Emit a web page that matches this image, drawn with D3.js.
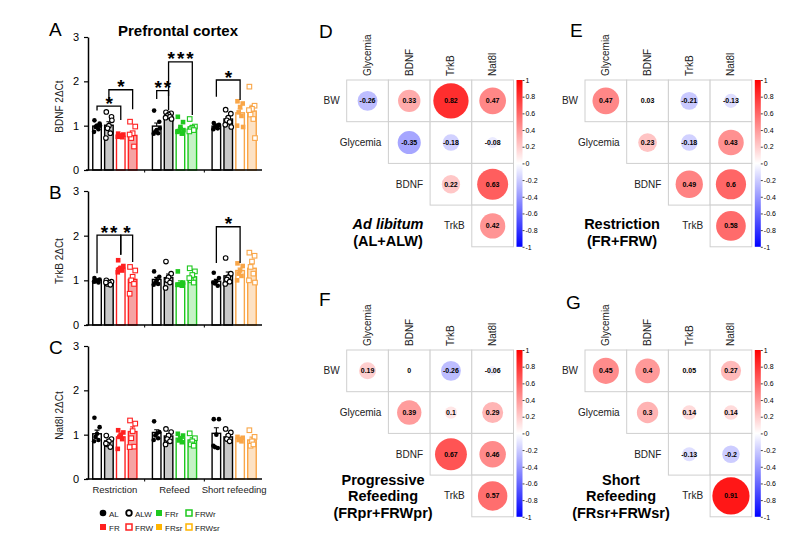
<!DOCTYPE html>
<html>
<head>
<meta charset="utf-8">
<script src="https://cdn.jsdelivr.net/npm/d3@7"></script>
<style>
body { margin: 0; background: #fff; }
svg { display: block; font-family: "Liberation Sans", Arial, sans-serif; }
</style>
</head>
<body>
<div id="chart"></div>
<script>
var width = 800, height = 534;

// ---- bar panels (A-C) ----
var groups = ["Restriction", "Refeed", "Short refeeding"];
var groupSeries = [["AL", "ALW", "FR", "FRW"], ["AL", "ALW", "FRr", "FRWr"], ["AL", "ALW", "FRsr", "FRWsr"]];
var yTicks = [0, 1, 2, 3];

var bdnfMeans = [[0.99, 1.01, 0.76, 0.78], [0.99, 1.21, 0.91, 0.97], [0.99, 1.15, 1.29, 1.33]];
var bdnfPoints = [
  [[1.12, 1.05, 1.0, 0.97, 0.92, 0.86, 1.0], [1.31, 1.2, 1.0, 0.94, 0.83, 0.72, 1.12], [0.82, 0.8, 0.78, 0.76, 0.74, 0.75], [1.09, 0.98, 0.83, 0.72, 0.53, 0.8]],
  [[1.34, 1.09, 0.9, 0.87, 0.83, 0.82, 0.94], [1.3, 1.28, 1.25, 1.22, 1.2, 1.18, 1.15], [1.2, 1.08, 0.97, 0.88, 0.82, 0.86, 0.9], [1.15, 0.98, 0.95, 0.92, 0.9, 0.87]],
  [[1.06, 1.02, 1.0, 0.97, 0.94, 0.92], [1.36, 1.27, 1.18, 1.12, 1.08, 1.02, 0.97], [1.55, 1.5, 1.42, 1.3, 1.22, 1.0, 0.97], [1.88, 1.45, 1.38, 1.25, 1.15, 1.35, 0.72]]
];
var bdnfSig = [
  {a: [0, 0], b: [0, 2], top: 1.44, endA: 1.34, endB: 1.13, label: "*"},
  {a: [0, 1], b: [0, 3], top: 1.81, endA: 1.55, endB: 1.37, label: "*"},
  {a: [1, 0], b: [1, 1], top: 1.79, endA: 1.6, endB: 1.67, label: "**"},
  {a: [1, 1], b: [1, 3], top: 2.44, endA: 1.35, endB: 1.24, label: "***"},
  {a: [2, 0], b: [2, 2], top: 2.03, endA: 1.65, endB: 1.58, label: "*"}
];

var trkbMeans = [[1.0, 0.96, 1.27, 1.02], [1.02, 1.06, 0.94, 1.08], [0.98, 1.1, 1.22, 1.27]];
var trkbPoints = [
  [[1.05, 1.02, 1.0, 0.98, 0.95, 0.97], [1.0, 0.97, 0.95, 0.92, 0.9, 0.95], [1.45, 1.32, 1.28, 1.25, 1.22, 1.18], [1.3, 1.22, 1.08, 1.0, 0.92, 0.7]],
  [[1.2, 1.08, 1.0, 0.95, 0.92, 0.9], [1.42, 1.15, 1.07, 1.0, 0.95, 0.83], [1.2, 0.95, 0.92, 0.9, 0.88, 0.9], [1.27, 1.2, 1.12, 1.0, 0.95, 1.05]],
  [[1.17, 1.05, 0.98, 0.93, 0.88, 0.95], [1.5, 1.15, 1.07, 1.02, 0.97, 0.92], [1.38, 1.32, 1.22, 1.15, 1.1, 1.0], [1.62, 1.55, 1.42, 1.3, 1.15, 1.0, 0.95]]
];
var trkbSig = [
  {a: [0, 0], b: [0, 2], top: 2.01, endA: 1.16, endB: 1.57, label: "**"},
  {a: [0, 2], b: [0, 3], top: 2.01, endA: 1.57, endB: 1.41, label: "*"},
  {a: [2, 0], b: [2, 2], top: 2.2, endA: 1.39, endB: 1.39, label: "*"}
];

var nat8lMeans = [[1.02, 0.86, 0.95, 1.07], [1.05, 0.97, 0.92, 0.88], [1.03, 0.95, 0.92, 0.88]];
var nat8lPoints = [
  [[1.38, 1.17, 1.02, 0.95, 0.88, 0.85], [0.98, 0.9, 0.85, 0.78, 0.72, 0.8], [1.1, 1.05, 1.0, 0.95, 0.9, 0.68], [1.32, 1.25, 1.08, 0.92, 0.73, 0.72]],
  [[1.3, 1.06, 1.02, 0.98, 0.92, 0.88], [1.13, 1.06, 0.98, 0.9, 0.85, 0.78], [1.02, 0.98, 0.92, 0.87, 0.83], [1.03, 0.92, 0.85, 0.78, 0.75]],
  [[1.35, 1.35, 1.0, 0.72, 0.7, 0.75], [1.13, 1.05, 0.98, 0.9, 0.85], [0.95, 0.93, 0.9, 0.88, 0.85], [1.1, 0.95, 0.85, 0.75, 0.78]]
];
var nat8lSig = [];

// ---- correlation panels (D-G) ----
var corrRows = ["BW", "Glycemia", "BDNF", "TrkB"];
var corrCols = ["Glycemia", "BDNF", "TrkB", "Nat8l"];
var corrAdLib = [[-0.26, 0.33, 0.82, 0.47], [-0.35, -0.18, -0.08], [0.22, 0.63], [0.42]];
var corrRestriction = [[0.47, 0.03, -0.21, -0.13], [0.23, -0.18, 0.43], [0.49, 0.6], [0.58]];
var corrProgressive = [[0.19, 0, -0.26, -0.06], [0.39, 0.1, 0.29], [0.67, 0.46], [0.57]];
var corrShort = [[0.45, 0.4, 0.05, 0.27], [0.3, 0.14, 0.14], [-0.13, -0.2], [0.91]];
var colorbarTicks = [1, 0.8, 0.6, 0.4, 0.2, 0, -0.2, -0.4, -0.6, -0.8, -1];

var styles = {
  AL:    {color: "#000000", fill: "#ffffff", mark: "circle", solid: true},
  ALW:   {color: "#000000", fill: "#c8c8c8", mark: "circle", solid: false},
  FR:    {color: "#ff2020", fill: "#ffffff", mark: "square", solid: true},
  FRW:   {color: "#ff2020", fill: "#f5a3a3", mark: "square", solid: false},
  FRr:   {color: "#1ec81e", fill: "#ffffff", mark: "square", solid: true},
  FRWr:  {color: "#1ec81e", fill: "#c6f2c6", mark: "square", solid: false},
  FRsr:  {color: "#f9a648", fill: "#ffffff", mark: "square", solid: true},
  FRWsr: {color: "#f9a648", fill: "#fde2c4", mark: "square", solid: false}
};
var jitter = [-2.6, 2.6, 0, -1.4, 1.4, -3, 3];

var svg = d3.select("#chart").append("svg")
    .attr("width", width)
    .attr("height", height);

var x0 = d3.scaleBand().domain(groups).range([85, 264]).paddingInner(0.26).paddingOuter(0.13);
var x1 = d3.scaleBand().domain([0, 1, 2, 3]).range([0, x0.bandwidth()]).paddingInner(0.28);

function barCenter(gi, si) {
    return x0(groups[gi]) + x1(si) + x1.bandwidth() / 2;
}

function drawMark(g, st, cx, cy) {
    if (st.mark == "circle") {
        g.append("circle")
            .attr("cx", cx).attr("cy", cy)
            .attr("r", 2.3)
            .attr("fill", st.solid ? st.color : "#fff")
            .attr("stroke", st.color)
            .attr("stroke-width", st.solid ? 0 : 1.1);
    } else {
        g.append("rect")
            .attr("x", cx - 2.3).attr("y", cy - 2.3)
            .attr("width", 4.6).attr("height", 4.6)
            .attr("fill", st.solid ? st.color : "#fff")
            .attr("stroke", st.color)
            .attr("stroke-width", st.solid ? 0 : 1.1);
    }
}

function drawBarPanel(yRange, means, points, sig, yLabel, letter, letterY) {
    var y = d3.scaleLinear().domain([0, 3]).range(yRange);
    var g = svg.append("g");

    // y axis
    g.append("g")
        .attr("transform", "translate(88,0)")
        .call(d3.axisLeft(y).tickValues(yTicks).tickFormat(d3.format("d")).tickSize(4).tickSizeOuter(0).tickPadding(5))
        .call(function(a) {
            a.attr("font-family", null).attr("font-size", 11);
            a.select(".domain").attr("stroke-width", 1.5);
            a.selectAll(".tick line").attr("stroke-width", 1.2);
        });

    groups.forEach(function(grp, gi) {
        groupSeries[gi].forEach(function(name, si) {
            var st = styles[name];
            var m = means[gi][si], pts = points[gi][si];
            var bx = x0(grp) + x1(si), cx = barCenter(gi, si);
            g.append("rect")
                .attr("x", bx)
                .attr("y", y(m))
                .attr("width", x1.bandwidth())
                .attr("height", y(0) - y(m))
                .attr("fill", st.fill)
                .attr("stroke", st.color)
                .attr("stroke-width", 1.4);
            // error bar (SEM of the points)
            var sem = d3.deviation(pts) / Math.sqrt(pts.length);
            g.append("path")
                .attr("d", "M" + cx + "," + y(m) + "V" + y(m + sem) + "M" + (cx - 2.5) + "," + y(m + sem) + "H" + (cx + 2.5))
                .attr("stroke", st.color)
                .attr("stroke-width", 1.1)
                .attr("fill", "none");
            pts.forEach(function(p, j) {
                drawMark(g, st, cx + jitter[j % jitter.length], y(p));
            });
        });
    });

    // x axis line
    g.append("line")
        .attr("x1", 86).attr("x2", 262)
        .attr("y1", y(0)).attr("y2", y(0))
        .attr("stroke", "#000").attr("stroke-width", 1.5);
    [1, 2].forEach(function(k) {
        var bx = (x0(groups[k - 1]) + x0.bandwidth() + x0(groups[k])) / 2;
        g.append("line")
            .attr("x1", bx).attr("x2", bx)
            .attr("y1", y(0)).attr("y2", y(0) + 2.5)
            .attr("stroke", "#000").attr("stroke-width", 1);
    });

    // significance brackets
    sig.forEach(function(s) {
        var xa = barCenter(s.a[0], s.a[1]), xb = barCenter(s.b[0], s.b[1]);
        g.append("path")
            .attr("d", "M" + xa + "," + y(s.endA) + "V" + y(s.top) + "H" + xb + "V" + y(s.endB))
            .attr("fill", "none")
            .attr("stroke", "#000")
            .attr("stroke-width", 1.3);
        g.append("text")
            .attr("x", (xa + xb) / 2 + 1.2)
            .attr("y", y(s.top) + 3.5)
            .attr("text-anchor", "middle")
            .attr("font-size", 19)
            .attr("font-weight", "bold")
            .attr("letter-spacing", 2)
            .text(s.label);
    });

    // y label
    var cy = (yRange[0] + yRange[1]) / 2 + 3;
    g.append("text")
        .attr("transform", "translate(63," + cy + ") rotate(-90)")
        .attr("text-anchor", "middle")
        .attr("font-size", 10)
        .attr("fill", "#222")
        .text(yLabel);

    // panel letter
    svg.append("text")
        .attr("x", 49).attr("y", letterY)
        .attr("font-size", 19)
        .text(letter);

    return y;
}

drawBarPanel([170, 37], bdnfMeans, bdnfPoints, bdnfSig, "BDNF 2ΔCt", "A", 36);
drawBarPanel([325, 191], trkbMeans, trkbPoints, trkbSig, "TrkB 2ΔCt", "B", 199);
drawBarPanel([479, 346], nat8lMeans, nat8lPoints, nat8lSig, "Nat8l 2ΔCt", "C", 354);

svg.append("text")
    .attr("x", 178).attr("y", 36)
    .attr("text-anchor", "middle")
    .attr("font-size", 15)
    .attr("font-weight", "bold")
    .text("Prefrontal cortex");

// group labels
groups.forEach(function(grp) {
    svg.append("text")
        .attr("x", x0(grp) + x0.bandwidth() / 2)
        .attr("y", 493)
        .attr("text-anchor", "middle")
        .attr("font-size", 9.5)
        .attr("fill", "#222")
        .text(grp);
});

// legend
var legendRows = [["AL", "ALW", "FRr", "FRWr"], ["FR", "FRW", "FRsr", "FRWsr"]];
var legendColor = {FRsr: "#ffb400", FRWsr: "#ffb400"};
var legendX = [103, 129, 159, 189];
legendRows.forEach(function(row, ri) {
    var ly = 513 + ri * 14;
    row.forEach(function(name, k) {
        var st = styles[name];
        var c = legendColor[name] || st.color;
        var lx = legendX[k];
        if (st.mark == "circle") {
            svg.append("circle")
                .attr("cx", lx).attr("cy", ly).attr("r", st.solid ? 3.3 : 2.8)
                .attr("fill", st.solid ? c : "#fff")
                .attr("stroke", c).attr("stroke-width", st.solid ? 0 : 1.8);
        } else {
            svg.append("rect")
                .attr("x", lx - 3).attr("y", ly - 3).attr("width", 6).attr("height", 6)
                .attr("fill", st.solid ? c : "#fff")
                .attr("stroke", c).attr("stroke-width", st.solid ? 0 : 1.5);
        }
        svg.append("text")
            .attr("x", lx + 6).attr("y", ly + 3.5)
            .attr("font-size", 8)
            .attr("fill", "#222")
            .text(name);
    });
});

// ---- correlation matrices ----
var corrColor = d3.scaleLinear().domain([-1, 0, 1]).range(["#0000ff", "#ffffff", "#ff0000"]);
var corrRadius = d3.scaleSqrt().domain([0, 1]).range([0, 19.5]);

var defs = svg.append("defs");
var grad = defs.append("linearGradient")
    .attr("id", "cbar")
    .attr("x1", 0).attr("y1", 1).attr("x2", 0).attr("y2", 0);
d3.range(-1, 1.01, 0.25).forEach(function(v) {
    grad.append("stop")
        .attr("offset", (v + 1) / 2)
        .attr("stop-color", corrColor(v));
});

function drawCorr(left, top, values, titleLines, italicFirst, titleX, titleY, letter, letterX, letterY) {
    var cs = 41.7;
    var xs = d3.scaleBand().domain(corrCols).range([left, left + 4 * cs]);
    var ys = d3.scaleBand().domain(corrRows).range([top, top + 4 * cs]);
    var g = svg.append("g");

    values.forEach(function(row, i) {
        var rname = corrRows[i];
        row.forEach(function(v, k) {
            var col = corrCols[i + k];
            var cx = xs(col) + cs / 2, cy = ys(rname) + cs / 2;
            g.append("rect")
                .attr("x", xs(col)).attr("y", ys(rname))
                .attr("width", cs).attr("height", cs)
                .attr("fill", "#fff")
                .attr("stroke", "#cfcfcf")
                .attr("stroke-width", 1);
            g.append("circle")
                .attr("cx", cx).attr("cy", cy)
                .attr("r", corrRadius(Math.abs(v)))
                .attr("fill", corrColor(v));
            g.append("text")
                .attr("x", cx).attr("y", cy + 2.5)
                .attr("text-anchor", "middle")
                .attr("font-size", 7)
                .attr("font-weight", "bold")
                .text(String(v));
        });
        g.append("text")
            .attr("x", xs(corrCols[i]) - 7)
            .attr("y", ys(rname) + cs / 2 + 3.5)
            .attr("text-anchor", "end")
            .attr("font-size", 10)
            .attr("fill", "#222")
            .text(rname);
    });

    corrCols.forEach(function(col) {
        g.append("text")
            .attr("transform", "translate(" + (xs(col) + cs / 2 + 3.5) + "," + (top - 4) + ") rotate(-90)")
            .attr("font-size", 10)
            .attr("fill", "#222")
            .text(col);
    });

    // colorbar
    var cbx = left + 4 * cs + 3;
    g.append("rect")
        .attr("x", cbx).attr("y", top)
        .attr("width", 6).attr("height", 4 * cs)
        .attr("fill", "url(#cbar)");
    var cbScale = d3.scaleLinear().domain([-1, 1]).range([top + 4 * cs, top]);
    g.append("g")
        .attr("transform", "translate(" + (cbx + 6) + ",0)")
        .call(d3.axisRight(cbScale).tickValues(colorbarTicks).tickSize(2).tickPadding(1).tickFormat(String))
        .call(function(a) {
            a.attr("font-family", null).attr("font-size", 7);
            a.select(".domain").remove();
            a.selectAll(".tick line").attr("stroke", "#444");
        });

    titleLines.forEach(function(t, li) {
        g.append("text")
            .attr("x", titleX).attr("y", titleY + li * 16.5)
            .attr("text-anchor", "middle")
            .attr("font-size", 14.5)
            .attr("font-weight", "bold")
            .attr("font-style", (italicFirst && li == 0) ? "italic" : null)
            .text(t);
    });

    svg.append("text")
        .attr("x", letterX).attr("y", letterY)
        .attr("font-size", 19)
        .text(letter);
}

drawCorr(346.7, 80, corrAdLib, ["Ad libitum", "(AL+ALW)"], true, 388, 229, "D", 319, 38);
drawCorr(585, 80, corrRestriction, ["Restriction", "(FR+FRW)"], false, 622, 229, "E", 570, 37);
drawCorr(346.7, 350, corrProgressive, ["Progressive", "Refeeding", "(FRpr+FRWpr)"], false, 383, 484.5, "F", 319, 306);
drawCorr(585, 350, corrShort, ["Short", "Refeeding", "(FRsr+FRWsr)"], false, 621, 484.5, "G", 566, 309);
</script>
</body>
</html>
